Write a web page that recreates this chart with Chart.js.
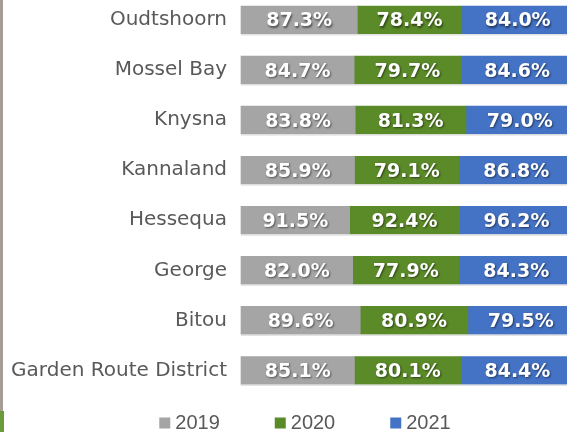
<!DOCTYPE html>
<html>
<head>
<meta charset="utf-8">
<script src="https://cdn.jsdelivr.net/npm/chart.js@4"></script>
<style>
  html, body { margin: 0; padding: 0; background: #fff; }
  #wrap { position: relative; width: 567px; height: 432px; }
  #edge { position: absolute; left: 0; top: 0; width: 3px; height: 411px; background: #a59d95; }
  #edge2 { position: absolute; left: 0; top: 411px; width: 4px; height: 21px; background: #6b9b3a; }
</style>
</head>
<body>
<div id="wrap">
  <canvas id="chart" width="567" height="432"></canvas>
  <div id="edge"></div><div id="edge2"></div>
</div>
<script>
const categories = ['Oudtshoorn', 'Mossel Bay', 'Knysna', 'Kannaland', 'Hessequa', 'George', 'Bitou', 'Garden Route District'];
const years = ['2019', '2020', '2021'];
const values2019 = [87.3, 84.7, 83.8, 85.9, 91.5, 82.0, 89.6, 85.1];
const values2020 = [78.4, 79.7, 81.3, 79.1, 92.4, 77.9, 80.9, 80.1];
const values2021 = [84.0, 84.6, 79.0, 86.8, 96.2, 84.3, 79.5, 84.4];
const colors = ['#a5a5a5', '#5b8a28', '#4472c4'];

const series = [values2019, values2020, values2021];
// 100% stacked: each segment is its share of the row total
const totals = categories.map((c, i) => series.reduce((s, arr) => s + arr[i], 0));

const labelPlugin = {
    id: 'barLabels',
    afterDatasetsDraw(chart) {
        const ctx = chart.ctx;
        ctx.save();
        // faint shadow line under each bar
        ctx.fillStyle = '#e2e2e2';
        chart.data.datasets.forEach((ds, di) => {
            chart.getDatasetMeta(di).data.forEach(bar => {
                ctx.fillRect(Math.min(bar.x, bar.base), bar.y + bar.height / 2, Math.abs(bar.x - bar.base), 1.5);
            });
        });
        ctx.font = 'bold 19px "DejaVu Sans"';
        ctx.textAlign = 'center';
        ctx.textBaseline = 'middle';
        ctx.fillStyle = '#ffffff';
        ctx.shadowColor = 'rgba(0,0,0,0.5)';
        ctx.shadowOffsetX = 1;
        ctx.shadowOffsetY = 1.5;
        ctx.shadowBlur = 2;
        chart.data.datasets.forEach((ds, di) => {
            chart.getDatasetMeta(di).data.forEach((bar, i) => {
                const cx = (bar.x + bar.base) / 2;
                ctx.fillText(ds.raw[i].toFixed(1) + '%', cx, bar.y + 1.5);
            });
        });
        ctx.restore();
    }
};

const legendPlugin = {
    id: 'bottomLegend',
    afterDraw(chart) {
        const ctx = chart.ctx;
        ctx.save();
        ctx.font = '20px "Liberation Sans"';
        ctx.textBaseline = 'middle';
        const box = 11, gap = 5, spacing = 55;
        const widths = years.map(y => box + gap + ctx.measureText(y).width);
        const total = widths.reduce((a, b) => a + b, 0) + spacing * (years.length - 1);
        let x = 305 - total / 2;
        const y = 423;
        years.forEach((yr, i) => {
            ctx.fillStyle = colors[i];
            ctx.fillRect(x, y - box / 2, box, box);
            ctx.fillStyle = '#595959';
            ctx.fillText(yr, x + box + gap, y);
            x += widths[i] + spacing;
        });
        ctx.restore();
    }
};

new Chart(document.getElementById('chart'), {
    type: 'bar',
    data: {
        labels: categories,
        datasets: series.map((arr, k) => ({
            label: years[k],
            raw: arr,
            data: arr.map((v, i) => v / totals[i] * 100),
            backgroundColor: colors[k],
            borderWidth: 0,
            barThickness: 28,
            clip: false
        }))
    },
    options: {
        indexAxis: 'y',
        responsive: false,
        animation: false,
        layout: { padding: { top: 20, bottom: 61.5, left: 0, right: 0 } },
        scales: {
            x: { stacked: true, min: 0, max: 98, display: false },
            y: {
                stacked: true,
                offset: false,
                grid: { display: false, drawTicks: false },
                border: { display: false },
                ticks: { color: '#595959', font: { family: 'DejaVu Sans', size: 20 }, padding: 14 },
                afterFit(scale) {
                    scale.width = 241;
                    scale.paddingTop = 0;
                    scale.paddingBottom = 0;
                }
            }
        },
        plugins: {
            legend: { display: false },
            tooltip: { enabled: false }
        }
    },
    plugins: [labelPlugin, legendPlugin]
});
</script>
</body>
</html>
